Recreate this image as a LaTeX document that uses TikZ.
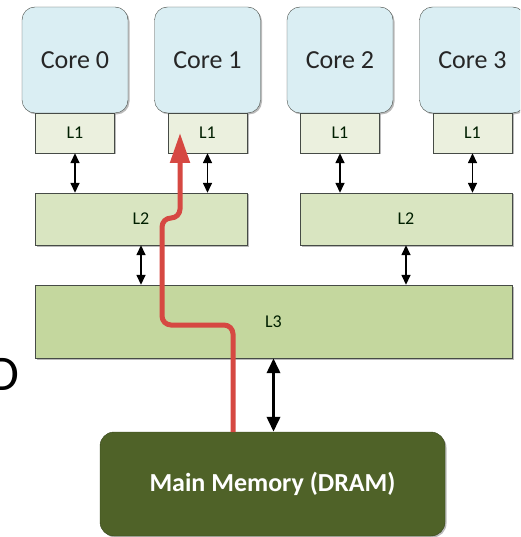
\documentclass[tikz,border=0pt]{standalone}
\usepackage{fontspec}
\setmainfont{Carlito}
\usetikzlibrary{arrows.meta,shadows}
\definecolor{corefill}{RGB}{218,238,243}
\definecolor{lonefill}{RGB}{235,240,222}
\definecolor{ltwofill}{RGB}{217,229,193}
\definecolor{lthreefill}{RGB}{196,215,158}
\definecolor{memfill}{RGB}{79,98,40}
\definecolor{pathred}{RGB}{214,72,66}
\definecolor{boxline}{RGB}{70,75,70}
\begin{document}
\begin{tikzpicture}
[x=1pt, y=-1pt,
  boxshadow/.style={drop shadow={shadow xshift=1.5pt,shadow yshift=-1.5pt,opacity=.45,fill=black!60}},
  coredecorate/.style={shape=rectangle,draw=boxline,fill=corefill,rounded corners=13pt,
    minimum width=106pt,minimum height=106pt,inner sep=0pt,text=black!85,
    font=\fontsize{26}{30}\selectfont,boxshadow},
  cachedecorate/.style={shape=rectangle,draw=boxline,inner sep=0pt,text=black!70!green!40!black,
    font=\fontsize{18}{21}\selectfont,boxshadow},
  memdecorate/.style={shape=rectangle,draw=memfill!70!black,fill=memfill,rounded corners=14pt,
    minimum width=345pt,minimum height=104pt,inner sep=0pt,text=white,
    font=\bfseries\fontsize{26}{30}\selectfont,boxshadow},
  smallarrow/.style={{Triangle[length=10pt,width=9pt]}-{Triangle[length=10pt,width=9pt]},line width=1.5pt},
  bigarrow/.style={{Triangle[length=15pt,width=13pt]}-{Triangle[length=15pt,width=13pt]},line width=3.5pt},
  redpath/.style={-{Triangle[length=30pt,width=19pt]},draw=pathred,line width=5pt,rounded corners=9pt}]
\clip (0,0) rectangle (520,537);
%% cores and their L1 caches
\foreach \nodename/\x in {0/75, 1/207.5, 2/340, 3/472.5}
{
  \node (core\nodename) at (\x,60) [coredecorate] {Core \nodename};
  \node (lone\nodename) at (\x,133) [cachedecorate,fill=lonefill,minimum width=79pt,minimum height=40pt] {L1};
}
%% shared caches
\node (ltwoa) at (141,219) [cachedecorate,fill=ltwofill,minimum width=212pt,minimum height=52pt] {L2};
\node (ltwob) at (406,219) [cachedecorate,fill=ltwofill,minimum width=212pt,minimum height=52pt] {L2};
\node (lthree) at (273.5,321.5) [cachedecorate,fill=lthreefill,minimum width=477pt,minimum height=73pt] {L3};
\node (mem) at (272.5,484) [memdecorate] {Main Memory (DRAM)};
%% cut-off letter at the left edge
\node (sideletter) at (19,390) [anchor=base east,inner sep=0pt,font=\fontsize{50}{60}\selectfont] {D};
%% edges or lines
\foreach \startnode/\endnode in {lone0/ltwoa, lone1/ltwoa, lone2/ltwob, lone3/ltwob}
{
  \draw[smallarrow] (\startnode.south) -- (\startnode.south |- \endnode.north);
}
\foreach \startnode in {ltwoa, ltwob}
{
  \draw[smallarrow] (\startnode.south) -- (\startnode.south |- lthree.north);
}
\draw[bigarrow] (lthree.south) -- (lthree.south |- mem.north);
%% path of a read from memory up to core 1
\coordinate (redfoot) at (233,432);
\coordinate (redtip) at (180,133);
\draw[redpath] (redfoot) -- (233,325) -- (162,325) -- (162,218) -- (180,218) -- (redtip);
\end{tikzpicture}
\end{document}
